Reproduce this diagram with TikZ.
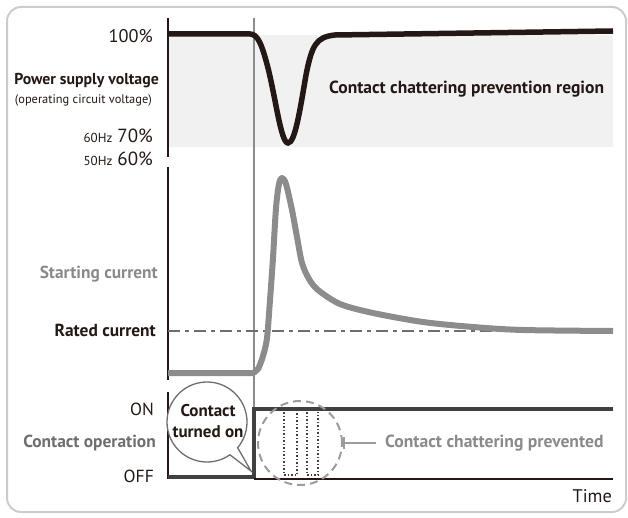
\documentclass[tikz,border=0pt]{standalone}
\usepackage{fontspec}
\setmainfont{PT Sans}
\usetikzlibrary{arrows.meta}

\definecolor{ink}{HTML}{231815}
\definecolor{curgray}{HTML}{8C8C8C}
\definecolor{darkline}{HTML}{404040}
\definecolor{regionfill}{HTML}{F1F1F1}
\definecolor{framegray}{HTML}{CCCCCC}
\definecolor{labgray}{HTML}{8A8A8A}
\definecolor{opgray}{HTML}{6E6E6E}

\tikzset{
  axisline/.style={ink,line width=2pt},
  lbl/.style={anchor=base east,inner sep=0pt,text=ink,font=\fontsize{18.3}{20}\selectfont},
  blbl/.style={lbl,font=\bfseries\fontsize{17.4}{20}\selectfont},
  bubtxt/.style={anchor=base,inner sep=0pt,text=ink,font=\bfseries\fontsize{17}{20}\selectfont},
  chatcirc/.style={circle,draw=labgray!85,line width=2pt,dash pattern=on 8pt off 5pt,minimum size=84pt,inner sep=0pt}
}

\begin{document}
\begin{tikzpicture}[x=1pt,y=-1pt]
\useasboundingbox (0,0) rectangle (628,518);
\draw[framegray,line width=2pt,rounded corners=14pt] (7,7) rectangle (626,512);

% chattering prevention region
\fill[regionfill] (168,35) rectangle (613,147);

% axes
\draw[axisline] (168,18) -- (168,157);
\draw[axisline] (168,167) -- (168,380);
\draw[axisline] (168,392) -- (168,479);

% contact turned on
\draw[curgray,line width=1.5pt] (254,18) -- (254,409);

% rated current
\draw[opgray,line width=1.5pt,dash pattern=on 12pt off 5pt on 4pt off 5pt] (168,331) -- (613,331);

% starting current
\draw[curgray,line width=6pt,line join=round] (168,373) -- (253,373)
  -- plot[smooth,tension=.5] coordinates {(253,373) (258,369) (263,356) (267,338)
     (270,300) (273,258) (276,208) (279,184) (282,178) (286,184) (292,210)
     (297,237) (302,263) (309,279) (318,290) (340,304) (373,313) (423,322)
     (473,327) (523,330) (613,331)};

% power supply voltage
\draw[ink,line width=5.5pt] (168,34) -- (250,34)
  .. controls (258,34) and (262,45) .. (268,68)
  .. controls (276,100) and (281,143) .. (288,143)
  .. controls (295,143) and (300,110) .. (306,75)
  .. controls (312,45) and (316,37) .. (335,35) -- (613,31);

% contact operation
\draw[darkline,line width=4pt] (168,477) -- (254,477) -- (254,409) -- (613,409);
\draw[ink,line width=1.5pt] (254,479) -- (613,479);

% chattering
\draw[darkline,dotted,line width=1.5pt] (284,412) -- (284,475) -- (297,475) -- (297,412);
\draw[darkline,dotted,line width=1.5pt] (307,412) -- (307,475) -- (318,475) -- (318,412);
\node[chatcirc] (chat) at (300,443) {};
\node[anchor=base west,inner sep=0pt,text=labgray,font=\bfseries\fontsize{17.6}{20}\selectfont] (prevtxt) at (385,447) {Contact chattering prevented};
\draw[labgray!85,line width=2pt,{Bar[width=12pt]}-,shorten >=9pt] (chat.east) -- (prevtxt.west |- chat.east);

% speech bubble
\coordinate (bub) at (207,422);
\coordinate (bubtip) at (251,471);
\draw[opgray,line width=1.3pt,fill=white] (bubtip) -- ([shift={(-40:40pt)}]bub)
  arc[start angle=-40,end angle=305,radius=40pt] -- cycle;
\node[bubtxt] (bubl1) at (208,416) {Contact};
\node[bubtxt] (bubl2) at (208,437) {turned on};

% labels
\node[lbl] (v100) at (153,43) {100\%};
\node[blbl,font=\bfseries\fontsize{15.8}{20}\selectfont] (vname) at (159,85) {Power supply voltage};
\node[lbl,font=\fontsize{12.4}{15}\selectfont] (vsub) at (152,104) {(operating circuit voltage)};
\node[lbl,font=\fontsize{19}{20}\selectfont] (v70) at (153,143) {{\fontsize{13}{12}\selectfont 60Hz} 70\%};
\node[lbl,font=\fontsize{19}{20}\selectfont] (v60) at (153,166) {{\fontsize{13}{12}\selectfont 50Hz} 60\%};
\node[blbl,text=labgray] (istart) at (158,278) {Starting current};
\node[blbl] (irated) at (156,336) {Rated current};
\node[lbl,font=\fontsize{17.5}{20}\selectfont] (con) at (154,415) {ON};
\node[blbl,text=opgray] (cop) at (156,447) {Contact operation};
\node[lbl,font=\fontsize{17.5}{20}\selectfont] (coff) at (154,482) {OFF};
\node[anchor=base west,inner sep=0pt,text=ink,font=\bfseries\fontsize{17.5}{20}\selectfont] (region) at (329,94) {Contact chattering prevention region};
\node[lbl] (time) at (612,502) {Time};
\end{tikzpicture}
\end{document}
